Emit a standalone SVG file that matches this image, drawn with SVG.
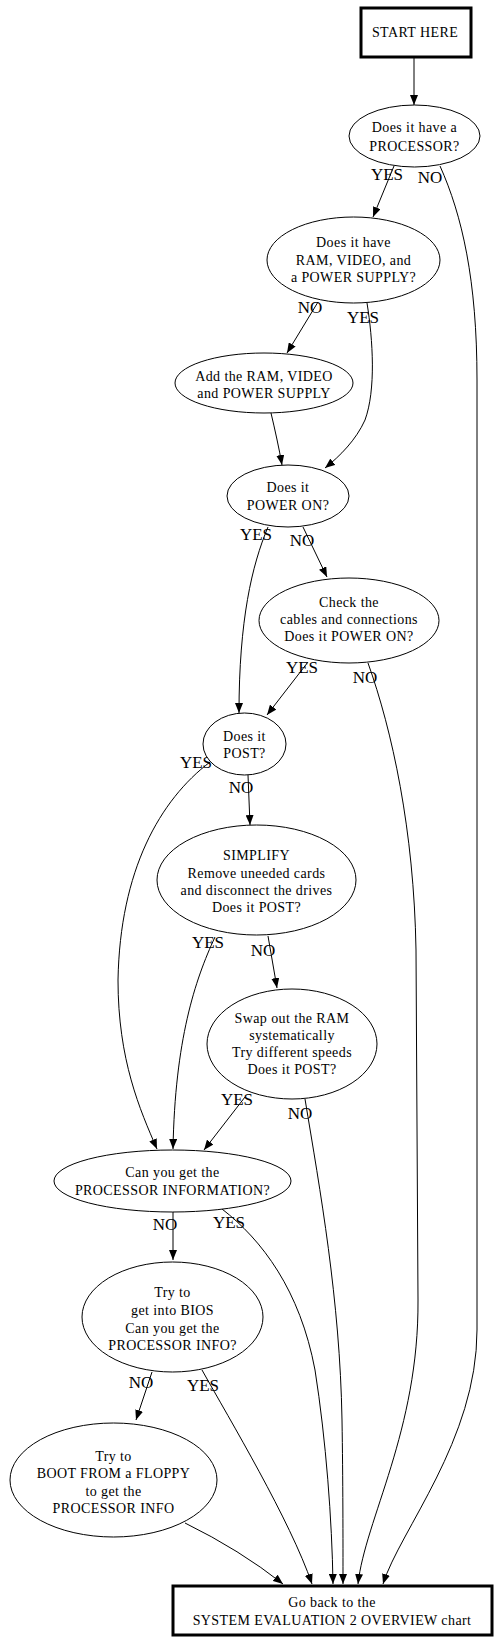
<svg xmlns="http://www.w3.org/2000/svg" width="498" height="1642" viewBox="0 0 498 1642">
<style>
.n{fill:#fff;stroke:#000;stroke-width:1}
.b{fill:#fff;stroke:#000;stroke-width:3}
.t{font-family:"Liberation Serif","Times New Roman",serif;font-size:14px;letter-spacing:0.4px;fill:#000;text-anchor:middle}
.l{font-family:"Liberation Serif","Times New Roman",serif;font-size:17px;fill:#000;text-anchor:middle}
.e{fill:none;stroke:#000;stroke-width:1;marker-end:url(#ah)}
</style>
<defs>
<marker id="ah" markerUnits="userSpaceOnUse" markerWidth="11" markerHeight="8" refX="10" refY="4" orient="auto">
<path d="M0,0 L10,4 L0,8 z" fill="#000"/>
</marker>
</defs>
<rect width="498" height="1642" fill="#fff"/>
<g id="edges">
<path class="e" d="M414,57 L414,105"/>
<path class="e" d="M394,166 L373,217"/>
<path class="e" d="M440,166 C462,215 477,280 477,380 L477,1330 C477,1440 400,1530 383,1584"/>
<path class="e" d="M318,302 L287,353"/>
<path class="e" d="M367,303 C373,340 376,390 365,420 C356,440 340,456 325,468"/>
<path class="e" d="M271,413 C275,430 279,448 282,465"/>
<path class="e" d="M268,527 C252,565 239,620 239,713"/>
<path class="e" d="M303,527 L327,577"/>
<path class="e" d="M308,662 L267,715"/>
<path class="e" d="M368,663 C392,730 414,830 416,950 L418,1300 C419,1430 365,1520 358,1584"/>
<path class="e" d="M210,762 C160,800 120,870 118,980 C118,1060 140,1110 157,1149"/>
<path class="e" d="M248,775 L250,825"/>
<path class="e" d="M215,937 C195,980 175,1040 173,1149"/>
<path class="e" d="M268,936 L277,988"/>
<path class="e" d="M245,1097 L204,1150"/>
<path class="e" d="M305,1099 C320,1190 340,1300 342,1420 C343,1480 343,1540 343,1584"/>
<path class="e" d="M173,1212 L173,1260"/>
<path class="e" d="M222,1209 C262,1240 300,1290 315,1370 C326,1440 332,1520 333,1584"/>
<path class="e" d="M152,1372 L136,1420"/>
<path class="e" d="M202,1370 C230,1420 290,1520 312,1584"/>
<path class="e" d="M185,1523 Q240,1550 283,1584"/>
</g>
<g id="labels">
<text class="l" x="387" y="180">YES</text>
<text class="l" x="430" y="183">NO</text>
<text class="l" x="310" y="313">NO</text>
<text class="l" x="363" y="323">YES</text>
<text class="l" x="256" y="540">YES</text>
<text class="l" x="302" y="546">NO</text>
<text class="l" x="302" y="673">YES</text>
<text class="l" x="365" y="683">NO</text>
<text class="l" x="196" y="768">YES</text>
<text class="l" x="241" y="793">NO</text>
<text class="l" x="208" y="948">YES</text>
<text class="l" x="263" y="956">NO</text>
<text class="l" x="237" y="1105">YES</text>
<text class="l" x="300" y="1119">NO</text>
<text class="l" x="165" y="1230">NO</text>
<text class="l" x="229" y="1228">YES</text>
<text class="l" x="141" y="1388">NO</text>
<text class="l" x="203" y="1391">YES</text>
</g>
<g id="start">
<rect class="b" x="361" y="8" width="110" height="49"/>
<text class="t" x="415" y="37">START HERE</text>
</g>
<g id="processor">
<ellipse class="n" cx="414.5" cy="136" rx="65.5" ry="31"/>
<text class="t" x="414.5" y="132">Does it have a</text>
<text class="t" x="414.5" y="151">PROCESSOR?</text>
</g>
<g id="ramvideo">
<ellipse class="n" cx="353.5" cy="260" rx="86.5" ry="43"/>
<text class="t" x="353.5" y="247">Does it have</text>
<text class="t" x="353.5" y="264.5">RAM, VIDEO, and</text>
<text class="t" x="353.5" y="282">a POWER SUPPLY?</text>
</g>
<g id="addram">
<ellipse class="n" cx="264" cy="383" rx="89" ry="30"/>
<text class="t" x="264" y="380.5">Add the RAM, VIDEO</text>
<text class="t" x="264" y="397.5">and POWER SUPPLY</text>
</g>
<g id="poweron">
<ellipse class="n" cx="288" cy="496" rx="61" ry="31"/>
<text class="t" x="288" y="492">Does it</text>
<text class="t" x="288" y="509.5">POWER ON?</text>
</g>
<g id="cables">
<ellipse class="n" cx="349" cy="620.5" rx="90" ry="42.5"/>
<text class="t" x="349" y="607">Check the</text>
<text class="t" x="349" y="624">cables and connections</text>
<text class="t" x="349" y="641">Does it POWER ON?</text>
</g>
<g id="post">
<ellipse class="n" cx="244.5" cy="744" rx="41.5" ry="31"/>
<text class="t" x="244.5" y="741">Does it</text>
<text class="t" x="244.5" y="758">POST?</text>
</g>
<g id="simplify">
<ellipse class="n" cx="256.5" cy="880" rx="99.5" ry="55"/>
<text class="t" x="256.5" y="860">SIMPLIFY</text>
<text class="t" x="256.5" y="877.5">Remove uneeded cards</text>
<text class="t" x="256.5" y="895">and disconnect the drives</text>
<text class="t" x="256.5" y="912">Does it POST?</text>
</g>
<g id="swapram">
<ellipse class="n" cx="292" cy="1044" rx="85" ry="55"/>
<text class="t" x="292" y="1023">Swap out the RAM</text>
<text class="t" x="292" y="1040">systematically</text>
<text class="t" x="292" y="1057">Try different speeds</text>
<text class="t" x="292" y="1074">Does it POST?</text>
</g>
<g id="procinfo">
<ellipse class="n" cx="172.5" cy="1181" rx="118.5" ry="31"/>
<text class="t" x="172.5" y="1177">Can you get the</text>
<text class="t" x="172.5" y="1195">PROCESSOR INFORMATION?</text>
</g>
<g id="bios">
<ellipse class="n" cx="172.5" cy="1317" rx="90.5" ry="55"/>
<text class="t" x="172.5" y="1297">Try to</text>
<text class="t" x="172.5" y="1315">get into BIOS</text>
<text class="t" x="172.5" y="1333">Can you get the</text>
<text class="t" x="172.5" y="1350">PROCESSOR INFO?</text>
</g>
<g id="floppy">
<ellipse class="n" cx="113.5" cy="1480" rx="103.5" ry="57"/>
<text class="t" x="113.5" y="1461">Try to</text>
<text class="t" x="113.5" y="1478">BOOT FROM a FLOPPY</text>
<text class="t" x="113.5" y="1496">to get the</text>
<text class="t" x="113.5" y="1513">PROCESSOR INFO</text>
</g>
<g id="goback">
<rect class="b" x="173" y="1586" width="319" height="49"/>
<text class="t" x="332" y="1607">Go back to the</text>
<text class="t" x="332" y="1625">SYSTEM EVALUATION 2 OVERVIEW chart</text>
</g>
</svg>
